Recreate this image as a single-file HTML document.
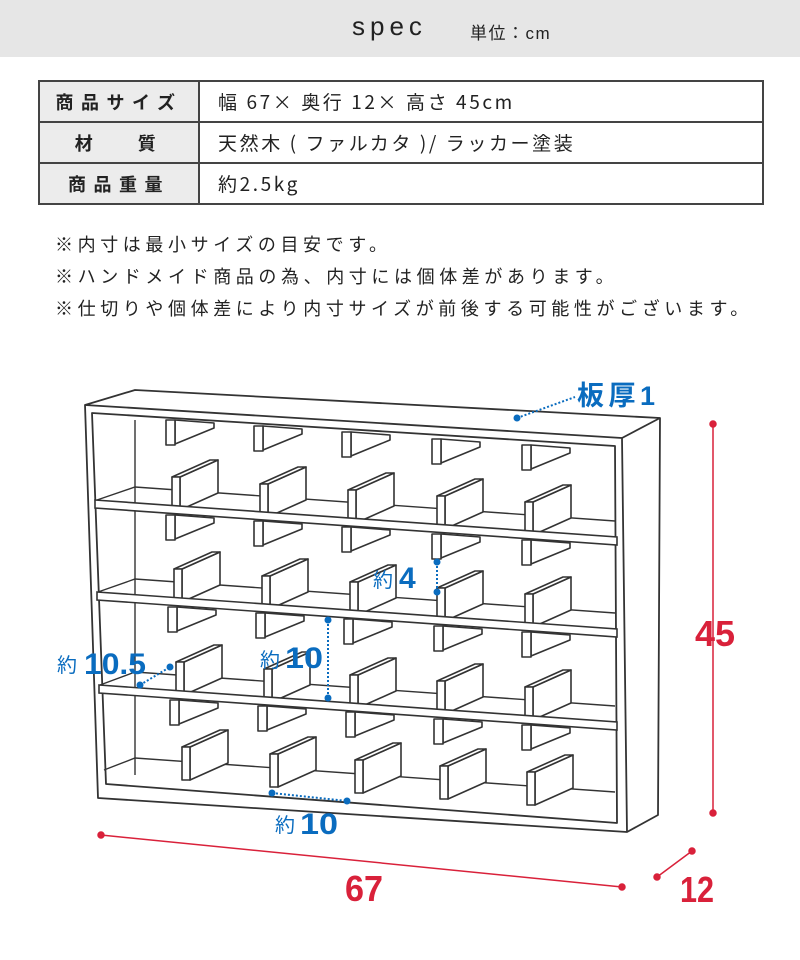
<!DOCTYPE html>
<html><head><meta charset="utf-8"><style>
body{margin:0;width:800px;height:960px;background:#fff;font-family:"Liberation Sans","Noto Sans CJK JP",sans-serif;color:#222;position:relative;overflow:hidden}
.hdr{position:absolute;left:0;top:0;width:800px;height:57px;background:#e6e6e6}
.spec{position:absolute;left:352px;top:11px;font-size:26px;letter-spacing:5px;color:#222}
.unit{position:absolute;left:470px;top:19px;font-size:17px;letter-spacing:1.5px}
table{position:absolute;left:38px;top:80px;border-collapse:collapse;width:726px}
td{border:2px solid #444;height:39px;font-size:19px;padding:0}
td.h{width:158px;background:#ececec;text-align:center;font-weight:bold;letter-spacing:7.5px;font-size:18px}
td.v{padding-left:18px;letter-spacing:2.6px;font-family:"Noto Sans CJK JP",sans-serif;font-size:19px}
.note{position:absolute;left:55px;font-size:18px;letter-spacing:4.6px;white-space:nowrap}
svg{position:absolute;left:0;top:0}
</style></head><body>
<div class="hdr"></div>
<div class="spec">spec</div><div class="unit">単位：cm</div>
<table>
<tr><td class="h">商品サイズ</td><td class="v">幅 67× 奥行 12× 高さ 45cm</td></tr>
<tr><td class="h">材&nbsp;&nbsp;&nbsp;質</td><td class="v">天然木 ( ファルカタ )/ ラッカー塗装</td></tr>
<tr><td class="h">商品重量</td><td class="v">約2.5kg</td></tr>
</table>
<div class="note" style="top:231px">※内寸は最小サイズの目安です。</div>
<div class="note" style="top:263px">※ハンドメイド商品の為、内寸には個体差があります。</div>
<div class="note" style="top:295px">※仕切りや個体差により内寸サイズが前後する可能性がございます。</div>
<svg width="800" height="960" viewBox="0 0 800 960">
<defs>
<g id="lo" stroke="#333" stroke-width="1.6" fill="#fff" stroke-linejoin="round">
<polygon points="8,-33 46,-50 46,-17 8,0"/>
<polygon points="0,-33 38,-50 46,-50 8,-33"/>
<rect x="0" y="-33" width="8" height="33"/>
</g>
<g id="up" stroke="#333" stroke-width="1.6" fill="#fff" stroke-linejoin="round">
<polygon points="9,0 48,3 48,8 9,24"/>
<rect x="0" y="0" width="9" height="25"/>
</g>
</defs>
<g stroke="#333" stroke-width="1.8" fill="#fff" stroke-linejoin="round">
<polygon points="85,405 135,390 660,418 658,815 627,832 98,798"/>
<polyline points="622,438 660,418" fill="none"/>
<polyline points="85,405 622,438 627,832" fill="none"/>
<polygon points="92,413 615,446 617,823 106,784"/>
</g>
<g stroke="#333" stroke-width="1.4" fill="none">
<line x1="135" y1="420" x2="135" y2="775"/>
<polyline points="97,500 135,487 615,521"/>
<polyline points="98,592 135,579 615,613"/>
<polyline points="100,685 135,672 615,706"/>
<polyline points="104,770 135,758 615,792"/>
</g>
<g>
<use href="#up" x="166" y="420"/><use href="#up" x="254" y="426"/><use href="#up" x="342" y="432"/><use href="#up" x="432" y="439"/><use href="#up" x="522" y="445"/>
<use href="#up" x="166" y="515"/><use href="#up" x="254" y="521"/><use href="#up" x="342" y="527"/><use href="#up" x="432" y="534"/><use href="#up" x="522" y="540"/>
<use href="#up" x="168" y="607"/><use href="#up" x="256" y="613"/><use href="#up" x="344" y="619"/><use href="#up" x="434" y="626"/><use href="#up" x="522" y="632"/>
<use href="#up" x="170" y="700"/><use href="#up" x="258" y="706"/><use href="#up" x="346" y="712"/><use href="#up" x="434" y="719"/><use href="#up" x="522" y="725"/>
<use href="#lo" x="172" y="510"/><use href="#lo" x="260" y="517"/><use href="#lo" x="348" y="523"/><use href="#lo" x="437" y="529"/><use href="#lo" x="525" y="535"/>
<use href="#lo" x="174" y="602"/><use href="#lo" x="262" y="609"/><use href="#lo" x="350" y="615"/><use href="#lo" x="437" y="621"/><use href="#lo" x="525" y="627"/>
<use href="#lo" x="176" y="695"/><use href="#lo" x="264" y="702"/><use href="#lo" x="350" y="708"/><use href="#lo" x="437" y="714"/><use href="#lo" x="525" y="720"/>
<use href="#lo" x="182" y="780"/><use href="#lo" x="270" y="787"/><use href="#lo" x="355" y="793"/><use href="#lo" x="440" y="799"/><use href="#lo" x="527" y="805"/>
</g>
<g stroke="#333" stroke-width="1.6" fill="#fff">
<polygon points="95,500 617,537 617,545 95,508"/>
<polygon points="97,592 617,629 617,637 97,600"/>
<polygon points="99,685 617,722 617,730 99,693"/>
</g>
<g fill="#0a6cbf" stroke="#0a6cbf">
<g stroke-width="2" stroke-dasharray="2,2" fill="none">
<line x1="517" y1="418" x2="575" y2="397"/>
<line x1="437" y1="562" x2="437" y2="592"/>
<line x1="328" y1="620" x2="328" y2="698"/>
<line x1="140" y1="685" x2="170" y2="667"/>
<line x1="272" y1="793" x2="347" y2="801"/>
</g>
<circle cx="517" cy="418" r="3"/><circle cx="437" cy="562" r="3"/><circle cx="437" cy="592" r="3"/>
<circle cx="328" cy="620" r="3"/><circle cx="328" cy="698" r="3"/><circle cx="140" cy="685" r="3"/><circle cx="170" cy="667" r="3"/>
<circle cx="272" cy="793" r="3"/><circle cx="347" cy="801" r="3"/>
</g>
<g fill="#0a6cbf" stroke="none" font-family="Liberation Sans, Noto Sans CJK JP, sans-serif">
<text x="577" y="405" font-size="27" font-weight="bold" textLength="78">板厚1</text>
<text x="373" y="587" font-size="20">約</text><text x="399" y="588" font-size="30" font-weight="bold">4</text>
<text x="260" y="667" font-size="20">約</text><text x="285" y="668" font-size="30" font-weight="bold" textLength="38" lengthAdjust="spacingAndGlyphs">10</text>
<text x="57" y="672" font-size="20">約</text><text x="84" y="674" font-size="30" font-weight="bold" textLength="62" lengthAdjust="spacingAndGlyphs">10.5</text>
<text x="275" y="832" font-size="20">約</text><text x="300" y="834" font-size="30" font-weight="bold" textLength="38" lengthAdjust="spacingAndGlyphs">10</text>
</g>
<g stroke="#d9213a" stroke-width="1.5" fill="#d9213a">
<line x1="713" y1="424" x2="713" y2="813"/><circle cx="713" cy="424" r="3"/><circle cx="713" cy="813" r="3"/>
<line x1="101" y1="835" x2="622" y2="887"/><circle cx="101" cy="835" r="3"/><circle cx="622" cy="887" r="3"/>
<line x1="657" y1="877" x2="692" y2="851"/><circle cx="657" cy="877" r="3"/><circle cx="692" cy="851" r="3"/>
</g>
<g fill="#d9213a" font-family="Liberation Sans, sans-serif" font-size="36" font-weight="bold">
<text x="695" y="646" textLength="40" lengthAdjust="spacingAndGlyphs">45</text>
<text x="345" y="901" textLength="38" lengthAdjust="spacingAndGlyphs">67</text>
<text x="680" y="902" textLength="34" lengthAdjust="spacingAndGlyphs">12</text>
</g>
</svg>
</body></html>
